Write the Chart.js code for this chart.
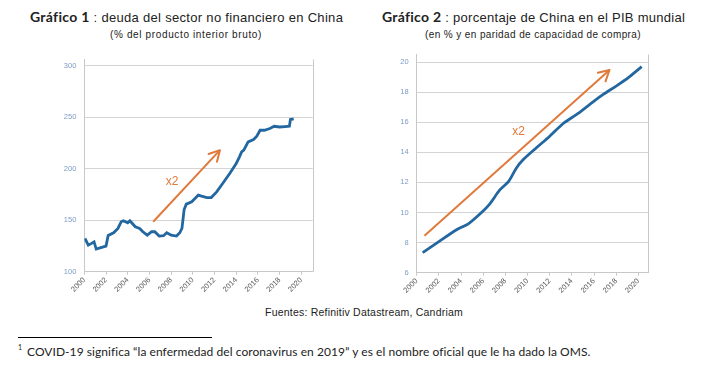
<!DOCTYPE html>
<html><head><meta charset="utf-8">
<script src="https://cdn.jsdelivr.net/npm/chart.js@4.4.1/dist/chart.umd.min.js"></script>
<style>
html,body{margin:0;padding:0;background:#fff;width:705px;height:366px;overflow:hidden;position:relative;font-family:"Liberation Sans",Arial,sans-serif;color:#222}
.t{position:absolute;white-space:nowrap;line-height:1}
.b{font-family:Lato,"Open Sans",sans-serif;font-weight:700;font-size:14px}
.cv{position:absolute}
</style></head><body>
<div class="t" id="t1" style="left:30px;top:10px;font-size:13px"><span class="b">Gráfico 1</span> : deuda del sector no financiero en China</div>
<div class="t fit" data-w="152" style="left:110px;top:30px;font-size:10px">(% del producto interior bruto)</div>
<div class="t" id="t2" style="left:382px;top:10px;font-size:13px"><span class="b">Gráfico 2</span> : porcentaje de China en el PIB mundial</div>
<div class="t fit" data-w="216" style="left:425px;top:30px;font-size:10px">(en % y en paridad de capacidad de compra)</div>
<div class="t fit" data-w="198" style="left:265px;top:307px;font-size:10.5px">Fuentes: Refinitiv Datastream, Candriam</div>
<div style="position:absolute;left:18px;top:337px;width:194px;height:1px;background:#000"></div>
<div class="t" style="left:18px;top:344px;font-size:7px;font-family:Lato,sans-serif">1</div>
<div class="t fit" data-w="563" style="left:27px;top:346px;font-size:12px;font-family:Lato,sans-serif">COVID-19 significa “la enfermedad del coronavirus en 2019” y es el nombre oficial que le ha dado la OMS.</div>
<canvas id="c1" class="cv" style="left:40px;top:47px" width="290" height="253"></canvas>
<canvas id="c2" class="cv" style="left:370px;top:42px" width="300" height="258"></canvas>
<script>
// ---- data ----
const debtYears = [2000.06,2000.37,2000.67,2000.9,2001.1,2001.6,2002.0,2002.2,2002.7,2003.1,2003.4,2003.6,2004.0,2004.2,2004.7,2005.1,2005.4,2005.8,2006.2,2006.5,2006.9,2007.3,2007.6,2008.0,2008.5,2008.8,2009.0,2009.2,2009.4,2009.9,2010.2,2010.5,2010.8,2011.3,2011.7,2012.2,2012.8,2013.4,2013.9,2014.0,2014.3,2014.5,2014.7,2015.1,2015.6,2015.9,2016.2,2016.6,2017.1,2017.5,2018.0,2018.5,2018.9,2019.0,2019.3];
const debtValues = [132.3,125.8,127.5,129,122,123.6,124.9,135.2,137.8,142,148.5,149.4,147.5,149.4,143.6,142,138.8,135.5,138.8,138.8,134.6,134.9,137.8,135.5,134.6,137.8,142,160.4,165.6,167.9,171.1,174.3,173.3,172,172,177.5,186.3,195.3,203.4,205,211.5,216.3,218,226,228.3,231.5,237.3,237.3,239,241.2,240.5,240.9,241.2,247.7,248.3];
const debtArrowYears = [2006.35, 2012.5];
const debtArrowValues = [148.5, 218];
const debtLabel = {text:"x2", year:2008.1, value:187.2};

const shareYears = [2000.54,2001.8,2003.6,2004.66,2005.7,2006.6,2007.5,2008.3,2009.0,2009.6,2010.8,2012.0,2013.2,2014.4,2015.6,2016.8,2018.0,2019.1,2020.3];
const shareValues = [7.33,7.96,8.85,9.25,9.9,10.58,11.5,12.07,12.96,13.5,14.3,15.07,15.9,16.5,17.17,17.83,18.4,18.96,19.69];
const shareArrowYears = [2000.7, 2017.4];
const shareArrowValues = [8.45, 19.47];
const shareLabel = {text:"x2", year:2009.2, value:15.36};

const xTickYears = [2000,2002,2004,2006,2008,2010,2012,2014,2016,2018,2020];
const debtTicks = [100,150,200,250,300];
const shareTicks = [6,8,10,12,14,16,18,20];

// ---- text width fitting ----
document.querySelectorAll('.fit').forEach(el=>{
  const w = el.getBoundingClientRect().width, target = +el.dataset.w;
  const n = el.textContent.length;
  el.style.letterSpacing = ((target - w)/n) + 'px';
});
function fitCenter(id, target){
  const el=document.getElementById(id);
  const w=el.getBoundingClientRect().width;
  el.style.letterSpacing=((target-w)/el.textContent.length)+'px';
}
fitCenter('t1',313); fitCenter('t2',303);

const BLUE='#22679f', ORANGE='#e07a3c';
const deco = {
  id:'deco',
  afterDatasetsDraw(chart, args, opts){
    const {ctx, chartArea:a, scales:{x,y}} = chart;
    ctx.save();
    ctx.strokeStyle='#c8c8c8'; ctx.lineWidth=1;
    ctx.beginPath(); ctx.moveTo(Math.round(a.right)+0.5,a.top); ctx.lineTo(Math.round(a.right)+0.5,a.bottom); ctx.stroke();
    const ds = chart.data.datasets[1];
    const p0 = ds.data[0], p1 = ds.data[1];
    const x0=x.getPixelForValue(p0.x), y0=y.getPixelForValue(p0.y);
    const x1=x.getPixelForValue(p1.x), y1=y.getPixelForValue(p1.y);
    const ang=Math.atan2(y1-y0,x1-x0), L=12, sp=0.5;
    ctx.strokeStyle=ORANGE; ctx.lineWidth=2; ctx.lineCap='round'; ctx.lineJoin='round';
    ctx.beginPath();
    ctx.moveTo(x1-L*Math.cos(ang-sp), y1-L*Math.sin(ang-sp));
    ctx.lineTo(x1,y1);
    ctx.lineTo(x1-L*Math.cos(ang+sp), y1-L*Math.sin(ang+sp));
    ctx.stroke();
    const lb = opts.label;
    ctx.fillStyle=ORANGE; ctx.font='12px "Liberation Sans", Arial'; ctx.textAlign='center'; ctx.textBaseline='middle';
    ctx.fillText(lb.text, x.getPixelForValue(lb.year), y.getPixelForValue(lb.value));
    ctx.restore();
  }
};

function makeChart(id, years, vals, ax, ay, label, yTicks, ymin, ymax, xmax, yw, xh, target, tension){
  const pad = {top:0, right:0, bottom:0, left:0};
  const c = new Chart(document.getElementById(id), {
    type:'line',
    data:{datasets:[
      {data:years.map((v,i)=>({x:v,y:vals[i]})), borderColor:BLUE, borderWidth:2.8, pointRadius:0, tension:tension, fill:false},
      {data:ax.map((v,i)=>({x:v,y:ay[i]})), borderColor:ORANGE, borderWidth:2, pointRadius:0, fill:false}
    ]},
    plugins:[deco],
    options:{
      responsive:false, animation:false, devicePixelRatio:1,
      layout:{padding:pad},
      plugins:{legend:{display:false}, tooltip:{enabled:false}, deco:{label:label}},
      scales:{
        x:{type:'linear', min:2000, max:xmax,
          afterBuildTicks(s){ s.ticks = xTickYears.map(v=>({value:v})); },
          afterFit(s){ s.height = xh; },
          grid:{display:true, drawOnChartArea:false, drawTicks:true, tickLength:3, color:'#c8c8c8'},
          border:{color:'#c8c8c8'},
          ticks:{autoSkip:false, minRotation:45, maxRotation:45, padding:1, color:'#5a5a5a', font:{size:7.5, family:'"Liberation Sans", Arial'}, callback:v=>String(v)}
        },
        y:{min:ymin, max:ymax,
          afterBuildTicks(s){ s.ticks = yTicks.map(v=>({value:v})); },
          afterFit(s){ s.width = yw; },
          grid:{drawTicks:false, borderDash:[4,3], color:(c)=> c.tick && c.tick.value===ymin ? 'rgba(0,0,0,0)' : '#d4d4d4'},
          border:{color:'#c8c8c8'},
          ticks:{padding:8, color:'#7d9cc4', font:{size:7.5, family:'"Liberation Sans", Arial'}}
        }
      }
    }
  });
  for (let k=0;k<3;k++){
    const a = c.chartArea;
    pad.left += target.left - a.left;
    pad.right += a.right - target.right;
    c.options.layout.padding = {...pad};
    c.update();
  }
  return c;
}
const c1 = makeChart('c1', debtYears, debtValues, debtArrowYears, debtArrowValues, debtLabel, debtTicks, 100, 306, 2021.05, 44.3, 28.3, {left:44.3, right:272.7}, 0);
const c2 = makeChart('c2', shareYears, shareValues, shareArrowYears, shareArrowValues, shareLabel, shareTicks, 6, 20.5, 2020.9, 46.7, 27.3, {left:46.7, right:278.3}, 0.3);
</script>
</body></html>
